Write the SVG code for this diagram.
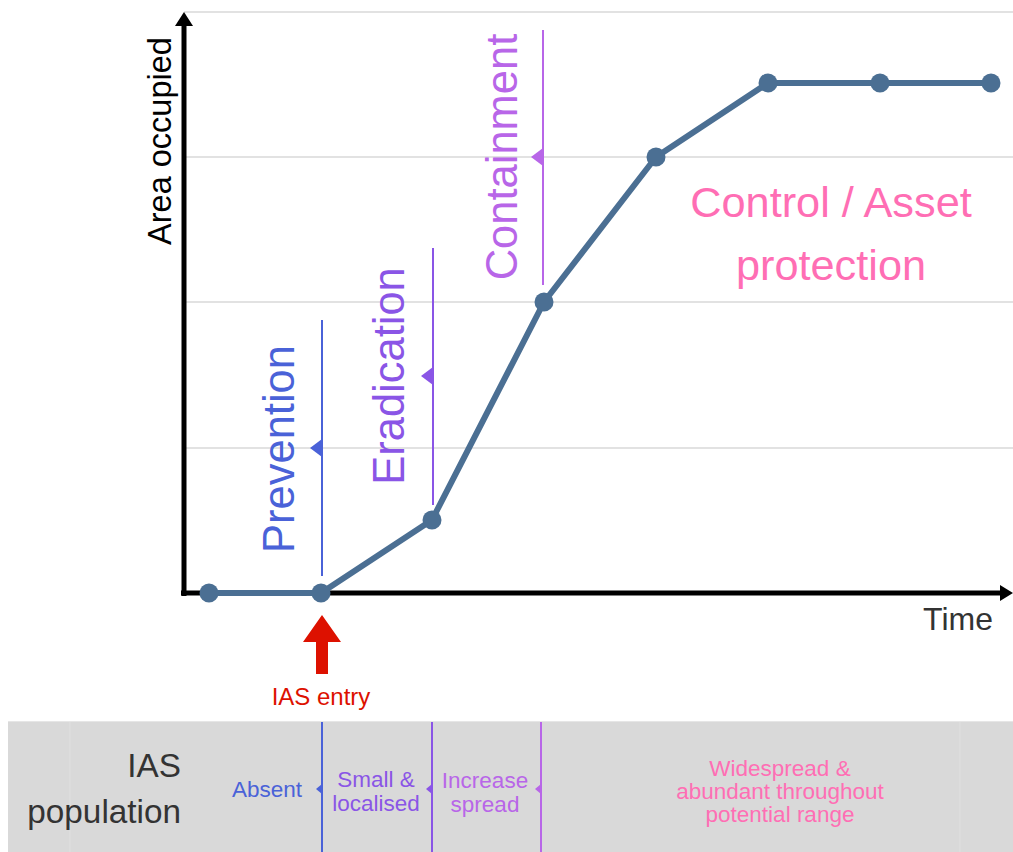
<svg xmlns="http://www.w3.org/2000/svg" width="1013" height="852" viewBox="0 0 1013 852">
<style>
text{font-family:"Liberation Sans",Arial,sans-serif}
.grid{stroke:#d9d9d9;stroke-width:1.5;fill:none}
.axis{stroke:#000;stroke-width:5;fill:none}
.curve{stroke:#4b6f93;stroke-width:6;fill:none;stroke-linejoin:round}
.pt{fill:#4b6f93}
.blue{fill:#4a62d8}
.purple{fill:#8a55e6}
.violet{fill:#b866e8}
.pink{fill:#ff6eb4}
.lbl{font-size:43.5px}
.small{font-size:22.5px;text-anchor:middle}
</style>
<rect width="1013" height="852" fill="#fff"/>
<g id="grid">
<line class="grid" x1="184" y1="12" x2="1013" y2="12"/>
<line class="grid" x1="184" y1="157" x2="1013" y2="157"/>
<line class="grid" x1="184" y1="302" x2="1013" y2="302"/>
<line class="grid" x1="184" y1="448" x2="1013" y2="448"/>
</g>
<g id="axes">
<line class="axis" x1="184" y1="596" x2="184" y2="24"/>
<path d="M175,26L184,12L193,26z" fill="#000"/>
<line class="axis" x1="181" y1="593" x2="1002" y2="593"/>
<path d="M1000,585L1013,593L1000,601z" fill="#000"/>
<text x="0" y="0" font-size="32.5" fill="#000" text-anchor="middle" transform="translate(171,141) rotate(-90)">Area occupied</text>
<text x="958" y="630" font-size="32" fill="#333" text-anchor="middle">Time</text>
</g>
<g id="connectors">
<line x1="322" y1="320" x2="322" y2="576" stroke="#4a62d8" stroke-width="2"/>
<path d="M310,448L322,439L322,457z" class="blue"/>
<line x1="433" y1="248" x2="433" y2="505" stroke="#8a55e6" stroke-width="2"/>
<path d="M421,376L433,367L433,385z" class="purple"/>
<line x1="543" y1="30" x2="543" y2="285" stroke="#b866e8" stroke-width="2"/>
<path d="M531,157L543,148L543,166z" class="violet"/>
</g>
<g id="curve">
<polyline class="curve" points="209,593 321,593 432,520 544,302 656,157 768,83 880,83 991,83"/>
<circle class="pt" cx="209" cy="593" r="9.5"/>
<circle class="pt" cx="321" cy="593" r="9.5"/>
<circle class="pt" cx="432" cy="520" r="9.5"/>
<circle class="pt" cx="544" cy="302" r="9.5"/>
<circle class="pt" cx="656" cy="157" r="9.5"/>
<circle class="pt" cx="768" cy="83" r="9.5"/>
<circle class="pt" cx="880" cy="83" r="9.5"/>
<circle class="pt" cx="991" cy="83" r="9.5"/>
</g>
<g id="prevention"><text class="lbl blue" text-anchor="middle" transform="translate(294,449) rotate(-90)">Prevention</text></g>
<g id="eradication"><text class="lbl purple" text-anchor="middle" transform="translate(404,376) rotate(-90)">Eradication</text></g>
<g id="containment"><text class="lbl violet" text-anchor="middle" transform="translate(517,157) rotate(-90)">Containment</text></g>
<g id="control">
<text class="pink" font-size="43.3" text-anchor="middle" x="831" y="217">Control / Asset</text>
<text class="pink" font-size="43.3" text-anchor="middle" x="831" y="280">protection</text>
</g>
<g id="ias-entry">
<path d="M316,674L316,642L303,642L322,615L341,642L328,642L328,674z" fill="#dd1100"/>
<text x="321" y="705" font-size="24" fill="#dd1100" text-anchor="middle">IAS entry</text>
</g>
<g id="band">
<rect x="8" y="721" width="1005" height="131" fill="#d9d9d9"/>
<line x1="8" y1="721.5" x2="1013" y2="721.5" stroke="#e6e6e6" stroke-width="1"/>
<line x1="70" y1="722" x2="70" y2="852" stroke="#e0e0e0" stroke-width="1"/>
<line x1="960" y1="722" x2="960" y2="852" stroke="#e0e0e0" stroke-width="1"/>
<line x1="322" y1="722" x2="322" y2="852" stroke="#4a62d8" stroke-width="2"/>
<path d="M316,789L322,784L322,794z" class="blue"/>
<line x1="432" y1="722" x2="432" y2="852" stroke="#8a55e6" stroke-width="2"/>
<path d="M426,789L432,784L432,794z" class="purple"/>
<line x1="541" y1="722" x2="541" y2="852" stroke="#b866e8" stroke-width="2"/>
<path d="M535,789L541,784L541,794z" class="violet"/>
<text x="181" y="777" font-size="33.3" fill="#333" text-anchor="end">IAS</text>
<text x="181" y="823" font-size="33.3" fill="#333" text-anchor="end">population</text>
<text class="small blue" x="267" y="797">Absent</text>
<text class="small purple" x="376" y="787">Small &amp;</text>
<text class="small purple" x="376" y="811">localised</text>
<text class="small violet" x="485" y="788">Increase</text>
<text class="small violet" x="485" y="812">spread</text>
<text class="small pink" x="780" y="776">Widespread &amp;</text>
<text class="small pink" x="780" y="799">abundant throughout</text>
<text class="small pink" x="780" y="822">potential range</text>
</g>
</svg>
